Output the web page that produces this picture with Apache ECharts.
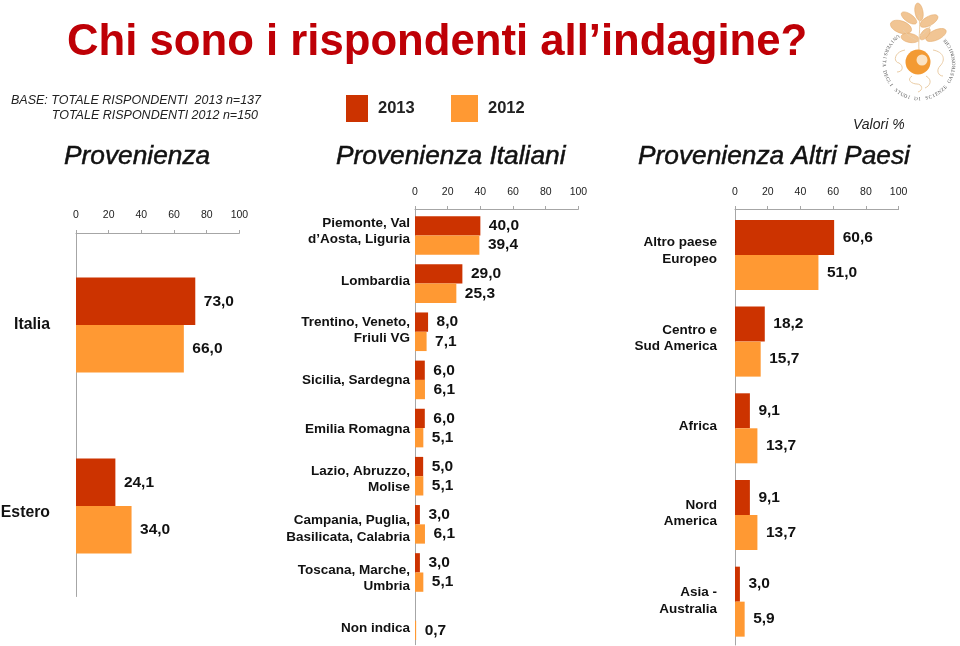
<!DOCTYPE html>
<html>
<head>
<meta charset="utf-8">
<style>html,body{margin:0;padding:0;background:#fff}#c{width:960px;height:646px}</style>
<script src="https://cdn.jsdelivr.net/npm/echarts@6/dist/echarts.min.js"></script>
</head>
<body>
<div id="c"></div>
<script>
const titleText = 'Chi sono i rispondenti all’indagine?';
const years = ['2013', '2012'];
const axisTicks = [0, 20, 40, 60, 80, 100];

const originCats = ['Italia', 'Estero'];
const origin2013 = [73.0, 24.1];
const origin2012 = [66.0, 34.0];

const italyCats = ['Piemonte, Val\nd’Aosta, Liguria', 'Lombardia', 'Trentino, Veneto,\nFriuli VG', 'Sicilia, Sardegna', 'Emilia Romagna', 'Lazio, Abruzzo,\nMolise', 'Campania, Puglia,\nBasilicata, Calabria', 'Toscana, Marche,\nUmbria', 'Non indica'];
const italy2013 = [40.0, 29.0, 8.0, 6.0, 6.0, 5.0, 3.0, 3.0, null];
const italy2012 = [39.4, 25.3, 7.1, 6.1, 5.1, 5.1, 6.1, 5.1, 0.7];

const abroadCats = ['Altro paese\nEuropeo', 'Centro e\nSud America', 'Africa', 'Nord\nAmerica', 'Asia -\nAustralia'];
const abroad2013 = [60.6, 18.2, 9.1, 9.1, 3.0];
const abroad2012 = [51.0, 15.7, 13.7, 13.7, 5.9];

const RED = '#CC3300', ORANGE = '#FF9933', AXIS = '#A6A6A6', INK = '#111111';
const FONT = '"Liberation Sans", Arial, sans-serif';

const panels = [
  {cats: originCats, a: origin2013, b: origin2012, left: 76, width: 163.4, top: 234.5, height: 362, axisY: 233, tickMargin: 12, barW: 47.5, font: 15.8, margin: 26, labelTop: 231, labelH: 376},
  {cats: italyCats, a: italy2013, b: italy2012, left: 415, width: 163.4, top: 211.4, height: 433.3, axisY: 209, tickMargin: 11, barW: 19.3, font: 13.5, margin: 5, labelTop: 206.5, labelH: 446.4},
  {cats: abroadCats, a: abroad2013, b: abroad2012, left: 735, width: 163.6, top: 211.6, height: 433.4, axisY: 209, tickMargin: 11, barW: 35, font: 13.5, margin: 18, labelTop: 207.25, labelH: 437.5}
];

const grid = [], xAxis = [], yAxis = [], series = [], graphic = [];
const fmt = p => p.value == null ? '' : p.value.toFixed(1).replace('.', ',');

panels.forEach((p, i) => {
  const g = grid.length;
  grid.push({left: p.left, top: p.top, width: p.width, height: p.height, outerBoundsMode: 'none'});
  xAxis.push({
    gridIndex: g, type: 'value', position: 'top', min: 0, max: 100, interval: 20,
    offset: p.top - p.axisY,
    splitLine: {show: false},
    axisLine: {show: true, lineStyle: {color: AXIS, width: 1}},
    axisTick: {show: true, length: 3, lineStyle: {color: AXIS, width: 1}},
    axisLabel: {margin: p.tickMargin, fontFamily: FONT, fontSize: 10.5, color: '#222', formatter: v => axisTicks.includes(v) ? String(v) : ''}
  });
  yAxis.push({
    gridIndex: g, type: 'category', inverse: true, data: p.cats,
    axisLine: {show: true, onZero: false, lineStyle: {color: AXIS, width: 1}},
    axisTick: {show: false}, axisLabel: {show: false}, splitLine: {show: false}
  });
  [[years[0], p.a, RED], [years[1], p.b, ORANGE]].forEach(([name, vals, color]) => {
    series.push({
      name, type: 'bar', xAxisIndex: g, yAxisIndex: g, data: vals,
      barWidth: p.barW, barGap: '0%', itemStyle: {color},
      label: {show: true, position: 'right', distance: 8.5, formatter: fmt,
        fontFamily: FONT, fontWeight: 'bold', fontSize: 15.5, color: INK},
      animation: false
    });
  });
  const h = grid.length;
  grid.push({left: p.left, top: p.labelTop, width: p.width, height: p.labelH, outerBoundsMode: 'none'});
  xAxis.push({gridIndex: h, type: 'value', show: false, min: 0, max: 100});
  yAxis.push({
    gridIndex: h, type: 'category', inverse: true, data: p.cats,
    axisLine: {show: false}, axisTick: {show: false}, splitLine: {show: false},
    axisLabel: {margin: p.margin, fontFamily: FONT, fontWeight: 'bold', fontSize: p.font,
      lineHeight: 16.5, color: INK, align: 'right', interval: 0}
  });
  graphic.push({type: 'line', silent: true, shape: {x1: p.left + .5, y1: p.axisY, x2: p.left + .5, y2: p.top + 1},
    style: {stroke: AXIS, lineWidth: 1}});
});

const txt = (text, x, y, fontSize, opts = {}) => ({
  type: 'text', silent: true, x, y,
  style: Object.assign({text, fontFamily: FONT, fontSize, fill: INK, textAlign: 'left', textVerticalAlign: 'middle'}, opts)
});
graphic.push(
  txt('BASE: TOTALE RISPONDENTI  2013 n=137', 261, 101, 12.5, {fontStyle: 'italic', textAlign: 'right', fill: '#222'}),
  txt('TOTALE RISPONDENTI 2012 n=150', 258, 116, 12.5, {fontStyle: 'italic', textAlign: 'right', fill: '#222'}),
  txt('Valori %', 853, 125, 14, {fontStyle: 'italic', fill: '#222'})
);

// University seal, decorative
const leaves = [
  [919, 12, 4, 9, 10], [929, 21, 4.5, 10, -60], [909, 18, 4, 9, 55],
  [901, 27, 6, 11, 70], [936, 35, 5, 11, -65], [910, 38, 4.5, 9, 80], [925, 34, 3.5, 7, -40]
];
leaves.forEach(([x, y, rx, ry, deg]) => graphic.push({
  type: 'ellipse', silent: true, x, y, rotation: deg * Math.PI / 180,
  shape: {cx: 0, cy: 0, rx, ry}, style: {fill: '#F1C594', stroke: '#E2A765', lineWidth: .5}
}));
[
  [919, 50, 918, 40, 921, 28, 919, 15], [919, 42, 913, 38, 908, 36, 903, 30], [920, 36, 926, 32, 930, 28, 931, 24],
  [905, 50, 894, 52, 893, 62, 899, 63], [899, 63, 904, 66, 903, 72, 897, 72],
  [933, 50, 944, 52, 946, 60, 940, 66], [940, 66, 936, 70, 938, 76, 943, 76],
  [912, 76, 906, 80, 912, 84, 917, 84], [917, 84, 922, 84, 924, 90, 918, 92], [926, 76, 933, 80, 930, 86, 925, 88]
].forEach(([x1, y1, cpx1, cpy1, cpx2, cpy2, x2, y2]) => graphic.push({type: 'bezierCurve', silent: true,
  shape: {x1, y1, cpx1, cpy1, cpx2, cpy2, x2, y2},
  style: {fill: 'none', stroke: '#EBCDA6', lineWidth: 1}}));
graphic.push({type: 'circle', silent: true, shape: {cx: 918, cy: 62, r: 12.5}, style: {fill: '#F39A33'}});
graphic.push({type: 'circle', silent: true, shape: {cx: 922, cy: 60, r: 5.5}, style: {fill: '#FBE3C4'}});
const sealText = 'UNIVERSITA DEGLI STUDI DI SCIENZE GASTRONOMICHE';
const sealStart = 128, sealEnd = 402;
sealText.split('').forEach((ch, k) => {
  const deg = sealStart + (sealEnd - sealStart) * k / (sealText.length - 1);
  const r = deg * Math.PI / 180;
  graphic.push({
    type: 'text', silent: true, x: 919 + 35 * Math.cos(r), y: 64 - 35 * Math.sin(r),
    rotation: r + Math.PI / 2,
    style: {text: ch, fontFamily: '"Liberation Serif", serif', fontSize: 5, fill: '#555', textAlign: 'center', textVerticalAlign: 'middle'}
  });
});

const heading = (text, left) => ({
  text, left, top: 144, padding: 0,
  textStyle: {fontFamily: FONT, fontStyle: 'italic', fontWeight: 'normal', fontSize: 26.3, color: INK, textBorderColor: INK, textBorderWidth: .5}
});
const legendBase = {orient: 'horizontal', itemGap: 0, selectedMode: false,
  textStyle: {fontFamily: FONT, fontWeight: 'bold', fontSize: 16.5, color: '#222', padding: [0, 0, 0, 5]}};

const option = {
  animation: false,
  backgroundColor: '#fff',
  title: [
    {text: titleText, left: 67, top: 21, padding: 0, textStyle: {fontFamily: FONT, fontWeight: 'bold', fontSize: 43.7, color: '#BE0006'}},
    heading('Provenienza', 64), heading('Provenienza Italiani', 336), heading('Provenienza Altri Paesi', 638)
  ],
  legend: [
    Object.assign({}, legendBase, {data: [years[0]], left: 346, top: 95, padding: 0, itemWidth: 22, itemHeight: 27, icon: 'rect'}),
    Object.assign({}, legendBase, {data: [years[1]], left: 451, top: 95, padding: 0, itemWidth: 27, itemHeight: 27, icon: 'rect'})
  ],
  grid, xAxis, yAxis, series, graphic
};
const chart = echarts.init(document.getElementById('c'), null, {renderer: 'canvas'});
chart.setOption(option);
</script>
</body>
</html>
